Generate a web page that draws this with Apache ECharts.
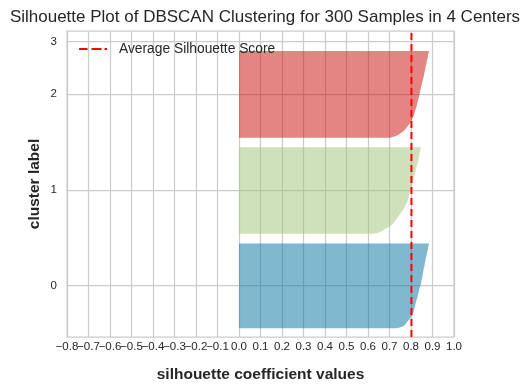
<!DOCTYPE html>
<html>
<head>
<meta charset="utf-8">
<script src="https://cdn.jsdelivr.net/npm/echarts@6/dist/echarts.min.js"></script>
<style>html,body{margin:0;padding:0;background:#fff}#c{width:520px;height:389px}</style>
</head>
<body>
<div id="c"></div>
<script>
// Sorted silhouette values per cluster (bottom to top)
const cluster0 = [0.729,0.748,0.761,0.768,0.772,0.775,0.778,0.781,0.784,0.788,
 0.792,0.795,0.798,0.801,0.803,0.806,0.808,0.809,0.811,0.812,
 0.813,0.814,0.815,0.816,0.817,0.818,0.819,0.820,0.821,0.822,
 0.823,0.824,0.826,0.827,0.828,0.829,0.830,0.831,0.832,0.833,
 0.834,0.835,0.836,0.837,0.838,0.839,0.840,0.841,0.842,0.844,
 0.845,0.846,0.847,0.848,0.848,0.849,0.850,0.851,0.852,0.853,
 0.853,0.854,0.855,0.856,0.856,0.857,0.858,0.858,0.859,0.860,
 0.861,0.862,0.863,0.864,0.864,0.865,0.866,0.867,0.868,0.868,
 0.869,0.870,0.871,0.872,0.873,0.874,0.875,0.875,0.876,0.877,
 0.878,0.879,0.880,0.880,0.881,0.882,0.883,0.885];
const cluster1 = [0.628,0.645,0.656,0.664,0.670,0.677,0.684,0.691,0.698,0.704,
 0.710,0.714,0.718,0.721,0.724,0.727,0.730,0.733,0.736,0.739,
 0.741,0.744,0.747,0.750,0.753,0.756,0.759,0.762,0.765,0.768,
 0.770,0.772,0.774,0.776,0.778,0.780,0.782,0.783,0.785,0.786,
 0.787,0.788,0.789,0.790,0.791,0.792,0.793,0.794,0.795,0.797,
 0.798,0.799,0.800,0.801,0.802,0.803,0.805,0.806,0.807,0.808,
 0.809,0.810,0.811,0.812,0.813,0.814,0.815,0.816,0.817,0.818,
 0.819,0.820,0.821,0.822,0.823,0.824,0.825,0.826,0.827,0.828,
 0.829,0.830,0.831,0.832,0.834,0.835,0.835,0.836,0.837,0.838,
 0.838,0.839,0.840,0.841,0.841,0.842,0.843,0.844,0.845,0.847];
const cluster2 = [0.700,0.718,0.730,0.739,0.745,0.751,0.757,0.762,0.767,0.771,
 0.775,0.778,0.781,0.784,0.787,0.790,0.793,0.796,0.799,0.801,
 0.803,0.805,0.807,0.809,0.810,0.812,0.813,0.815,0.816,0.817,
 0.819,0.820,0.821,0.822,0.824,0.825,0.826,0.827,0.828,0.829,
 0.830,0.831,0.832,0.833,0.834,0.835,0.836,0.837,0.838,0.839,
 0.840,0.841,0.842,0.843,0.843,0.844,0.845,0.846,0.847,0.848,
 0.849,0.850,0.851,0.852,0.853,0.854,0.855,0.856,0.857,0.858,
 0.859,0.860,0.861,0.861,0.862,0.863,0.864,0.865,0.866,0.866,
 0.867,0.868,0.869,0.870,0.871,0.872,0.873,0.873,0.874,0.875,
 0.876,0.877,0.878,0.879,0.879,0.880,0.881,0.882,0.883,0.885];
const cluster3 = []; // empty cluster label
const clusters = [cluster0, cluster1, cluster2, cluster3];
const clusterLabels = ['0', '1', '2', '3'];
const clusterColors = ['rgba(2,114,162,0.5)', 'rgba(159,195,119,0.5)', 'rgba(202,11,3,0.5)', 'rgba(165,2,88,0.5)'];
const averageScore = 0.802;
const nSamples = 300;
const xTicksMin = -0.8, xTicksMax = 1.0, xTickStep = 0.1;

// yellowbrick-style stacking: start at 10, gap of 10 between clusters
const yLower = [];
const yMid = [];
let yl = 10;
clusters.forEach(c => { yLower.push(yl); yMid.push(yl + 0.5 * c.length); yl += c.length + 10; });
const yMax = nSamples + (clusters.length + 1) * 10;

const font = '"Liberation Sans", Arial, sans-serif';
const fmtX = v => (v < -1e-9 ? '\u2212' : '') + Math.abs(v).toFixed(1);
const isMin = v => Math.abs(v - xTicksMin) < 1e-9;
const chart = echarts.init(document.getElementById('c'));
chart.setOption({
  animation: false,
  backgroundColor: '#ffffff',
  title: {
    text: 'Silhouette Plot of DBSCAN Clustering for 300 Samples in 4 Centers',
    left: 260, top: 4, textAlign: 'center',
    textStyle: { fontFamily: font, fontSize: 17, fontWeight: 'normal', color: '#262626' }
  },
  legend: {
    left: 79, top: 42, padding: 0,
    itemWidth: 28, itemHeight: 2,
    itemStyle: { borderWidth: 0 },
    lineStyle: { width: 0 },
    textStyle: { fontFamily: font, fontSize: 13.8, color: '#262626', padding: [0, 0, 0, 7] },
    data: [{ name: 'Average Silhouette Score',
             icon: 'path://M0,0H8.5V2H0Z M12.5,0H22.5V2H12.5Z M25.5,0H28V2H25.5Z',
             itemStyle: { color: '#ff0000', borderWidth: 0 } }]
  },
  grid: { left: 67, right: 66, top: 31, bottom: 52, show: true, borderColor: '#cccccc', borderWidth: 1.25, backgroundColor: 'transparent' },
  xAxis: [{
    type: 'value', min: xTicksMin, max: xTicksMax, interval: xTickStep,
    name: 'silhouette coefficient values', nameLocation: 'middle', nameGap: 30,
    nameTextStyle: { fontFamily: font, fontSize: 15.5, fontWeight: 'bold', color: '#262626' },
    axisLine: { show: false }, axisTick: { show: false },
    axisLabel: { fontFamily: font, fontSize: 11.5, color: '#262626', margin: 4,
      showMinLabel: false, showMaxLabel: true, hideOverlap: false,
      formatter: fmtX },
    splitLine: { show: true, lineStyle: { color: '#cccccc', width: 1.25 } }
  }, {
    // same scale; only carries the min tick label, which the first axis would hide on overlap
    type: 'value', min: xTicksMin, max: xTicksMax, interval: xTickStep, position: 'bottom',
    axisLine: { show: false }, axisTick: { show: false }, splitLine: { show: false },
    axisLabel: { fontFamily: font, fontSize: 11.5, color: '#262626', margin: 4,
      showMinLabel: true, showMaxLabel: false, hideOverlap: false,
      formatter: v => isMin(v) ? fmtX(v) : '' }
  }],
  yAxis: {
    type: 'value', min: 0, max: yMax,
    name: 'cluster label', nameLocation: 'middle', nameGap: 24, nameRotate: 90, nameMoveOverlap: false,
    nameTextStyle: { fontFamily: font, fontSize: 15.5, fontWeight: 'bold', color: '#262626' },
    axisLine: { show: false },
    axisTick: { show: false, customValues: yMid },
    axisLabel: { fontFamily: font, fontSize: 11.5, color: '#262626', margin: 10, customValues: yMid,
      formatter: v => { const i = yMid.findIndex(m => Math.abs(m - v) < 1e-6); return i >= 0 ? clusterLabels[i] : ''; } },
    splitLine: { show: true, lineStyle: { color: '#cccccc', width: 1.25 } }
  },
  series: [
    {
      type: 'custom',
      name: 'silhouettes',
      clip: true,
      data: clusters.map((c, i) => [i]),
      encode: { x: [], y: [] },
      renderItem: (params, api) => {
        const ci = api.value(0);
        const vals = clusters[ci];
        if (!vals.length) return null;
        const y0 = yLower[ci];
        const pts = [api.coord([0, y0])];
        vals.forEach((v, k) => pts.push(api.coord([v, y0 + k])));
        pts.push(api.coord([0, y0 + vals.length - 1]));
        return { type: 'polygon', shape: { points: pts }, style: { fill: clusterColors[ci], stroke: null } };
      }
    },
    {
      type: 'line',
      name: 'Average Silhouette Score',
      symbol: 'none',
      data: [[averageScore, 0], [averageScore, yMax]],
      lineStyle: { color: '#ff0000', width: 2, type: [7, 4] },
      itemStyle: { color: '#ff0000' },
      z: 5
    }
  ]
});
</script>
</body>
</html>
